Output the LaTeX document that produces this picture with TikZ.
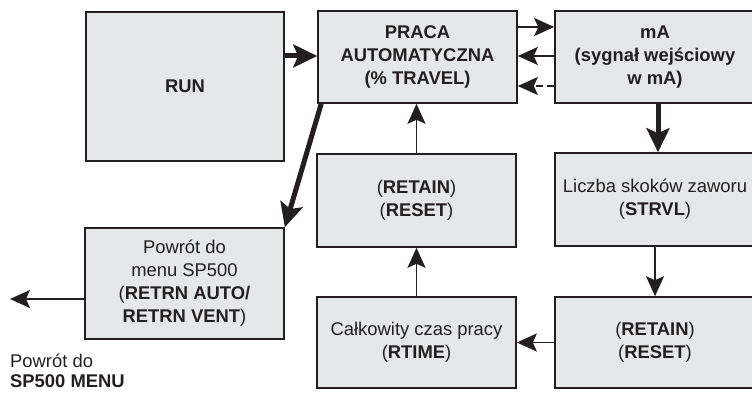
\documentclass[tikz,border=0pt]{standalone}
\usepackage{fontspec}
\setmainfont{Liberation Sans}
\usetikzlibrary{arrows.meta}
\definecolor{boxfill}{HTML}{E6E7E8}
\definecolor{ink}{HTML}{231F20}

\begin{document}
\begin{tikzpicture}[x=1pt, y=-1pt,
        box/.style = {draw = ink, fill = boxfill, line width = 1.6pt, inner sep = 0pt, align = center, text = ink, font = \fontsize{18.4}{23}\selectfont},
        boldbox/.style = {box, font = \fontsize{18.4}{23}\selectfont\bfseries},
        flow/.style = {draw = ink, line width = 1.7pt, -{Stealth[length = 20pt, width = 18pt, inset = 4pt]}},
        bigflow/.style = {draw = ink, line width = 5pt, -{Stealth[length = 24pt, width = 23pt, inset = 5pt]}}]
        \useasboundingbox (0, 0) rectangle (752, 395);
        % top row
        \node (run) at (185, 86.5) [boldbox, line width = 2.6pt, minimum width = 198pt, minimum height = 149pt] {RUN};
        \node (auto) at (417.5, 57) [boldbox, minimum width = 199pt, minimum height = 92pt] {PRACA\\AUTOMATYCZNA\\(\% TRAVEL)};
        \node (ma) at (655, 57) [boldbox, minimum width = 200pt, minimum height = 92pt] {mA\\(sygnał wejściowy\\w mA)};
        % middle and bottom rows
        \node (keepL) at (416.5, 200.5) [box, minimum width = 199pt, minimum height = 93pt] {(\textbf{RETAIN})\\(\textbf{RESET})};
        \node (hours) at (416.5, 342.5) [box, minimum width = 199pt, minimum height = 91pt] {Całkowity czas pracy\\(\textbf{RTIME})};
        \node (strokes) at (655, 199.5) [box, minimum width = 200pt, minimum height = 93pt] {Liczba skoków zaworu\\(\textbf{STRVL})};
        \node (keepR) at (655, 342.5) [box, minimum width = 200pt, minimum height = 91pt] {(\textbf{RETAIN})\\(\textbf{RESET})};
        \node (back) at (184.5, 283.5) [box, minimum width = 199pt, minimum height = 111pt] {Powrót do\\menu SP500\\(\textbf{RETRN AUTO/}\\\textbf{RETRN VENT})};
        \node (note) at (10, 387) [anchor = base west, inner sep = 0pt, align = left, text = ink, font = \fontsize{18.4}{20}\selectfont] {Powrót do\\\textbf{SP500 MENU}};
        \coordinate (exit) at (10, 299);
        % connectors
        \draw [bigflow] ([yshift = 30.5pt]run.east) -- ([yshift = 30.5pt]run.east -| auto.west);
        \draw [flow] ([yshift = 30pt]auto.east) -- ([yshift = 30pt]ma.west);
        \draw [flow] ([yshift = 1pt]ma.west) -- ([yshift = 1pt]auto.east);
        \draw [flow, dash pattern = on 7pt off 4pt] ([yshift = -29pt]ma.west) -- ([yshift = -29pt]auto.east);
        \draw [bigflow] ([xshift = 4pt]auto.south west) -- (back.north east);
        \draw [bigflow] ([xshift = 3pt]ma.south) -- ([xshift = 3pt]ma.south |- strokes.north);
        \draw [flow] (strokes.south) -- (keepR.north);
        \draw [flow] (keepR.west) -- (hours.east);
        \draw [flow] (hours.north) -- (keepL.south);
        \draw [flow] (keepL.north) -- (keepL.north |- auto.south);
        \draw [flow] ([yshift = -15.5pt]back.west) -- (exit);
    \end{tikzpicture}
\end{document}
